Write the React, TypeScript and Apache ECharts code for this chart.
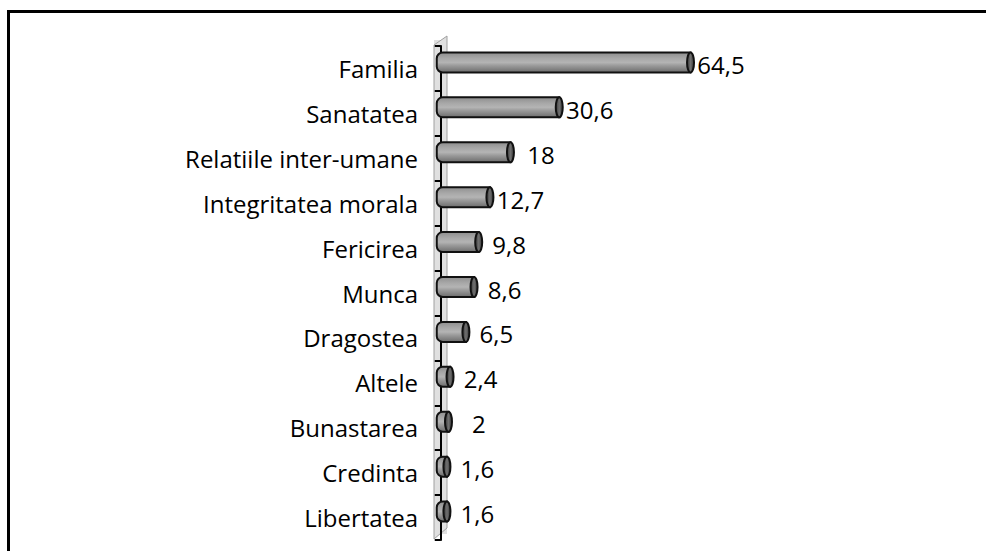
import React, { useEffect, useRef } from "react";
import * as echarts from "echarts";

const categories = [
  "Familia",
  "Sanatatea",
  "Relatiile inter-umane",
  "Integritatea morala",
  "Fericirea",
  "Munca",
  "Dragostea",
  "Altele",
  "Bunastarea",
  "Credinta",
  "Libertatea",
];
const values = [64.5, 30.6, 18, 12.7, 9.8, 8.6, 6.5, 2.4, 2, 1.6, 1.6];

const FONT = "Open Sans";

export default function App() {
  const ref = useRef<HTMLDivElement>(null);
  useEffect(() => {
    if (!ref.current) return;
    const chart = echarts.init(ref.current, undefined, { renderer: "svg" });
    const gridCommon = { left: 433, right: 158, height: 494 };
    const option: any = {
      animation: false,
      backgroundColor: "#ffffff",
      grid: [
        { ...gridCommon, top: 46 },
        { ...gridCommon, top: 40 },
      ],
      xAxis: [
        { type: "value", gridIndex: 0, min: -2, max: 100, show: false },
        { type: "value", gridIndex: 1, min: -2, max: 100, show: false },
      ],
      yAxis: [
        {
          type: "category",
          gridIndex: 0,
          data: categories,
          inverse: true,
          z: 3,
          axisLine: { show: true, lineStyle: { color: "#000", width: 2 } },
          axisTick: { show: true, length: 6, lineStyle: { color: "#000", width: 2 } },
          axisLabel: {
            color: "#000",
            fontFamily: FONT,
            fontSize: 24,
            margin: 15,
            padding: [3, 0, 0, 0],
          },
          splitLine: { show: false },
        },
        {
          type: "category",
          gridIndex: 1,
          data: categories,
          inverse: true,
          show: false,
        },
      ],
      graphic: {
        elements: [
          {
            type: "rect",
            left: 7,
            top: 10,
            z: 1,
            shape: { x: 0, y: 0, width: 1100, height: 700 },
            style: { fill: "rgba(0,0,0,0)", stroke: "#000", lineWidth: 3 },
          },
          {
            type: "rect",
            z: 1,
            x: 434,
            y: 40,
            shape: { x: 0, y: 0, width: 13, height: 494 },
            style: { fill: "#e0e0e0" },
          },
          {
            type: "polygon",
            z: 1,
            shape: {
              points: [
                [434, 45],
                [447, 36],
                [447, 528],
                [434, 539],
              ],
            },
            style: { fill: "#e0e0e0", stroke: "#a0a0a0", lineWidth: 1 },
          },
        ],
      },
      series: [
        {
          type: "custom",
          xAxisIndex: 1,
          yAxisIndex: 1,
          z: 5,
          data: values.map((v, i) => [v, i]),
          encode: { x: 0, y: 1 },
          renderItem: (params: any, api: any) => {
            const v = api.value(0);
            const idx = api.value(1);
            const p0 = api.coord([0, idx]);
            const p1 = api.coord([v, idx]);
            const bh = 20;
            const rx = 3.5;
            const cy = p1[1];
            const x0 = p0[0];
            const x1 = p1[0];
            const label = String(v).replace(".", ",");
            return {
              type: "group",
              children: [
                {
                  type: "rect",
                  shape: {
                    x: x0 - 4,
                    y: cy - bh / 2,
                    width: Math.max(x1 - x0 + 4, 4),
                    height: bh,
                    r: [6, 0, 0, 6],
                  },
                  style: {
                    fill: new echarts.graphic.LinearGradient(0, 0, 0, 1, [
                      { offset: 0, color: "#8e8e8e" },
                      { offset: 0.3, color: "#a8a8a8" },
                      { offset: 0.5, color: "#b4b4b4" },
                      { offset: 0.65, color: "#9c9c9c" },
                      { offset: 1, color: "#6c6c6c" },
                    ]),
                    stroke: "#111",
                    lineWidth: 2,
                  },
                },
                {
                  type: "ellipse",
                  shape: { cx: x1, cy: cy, rx: rx, ry: bh / 2 },
                  style: {
                    fill: new echarts.graphic.LinearGradient(0, 0, 1, 0, [
                      { offset: 0, color: "#3a3a3a" },
                      { offset: 0.5, color: "#707070" },
                      { offset: 1, color: "#3a3a3a" },
                    ]),
                    stroke: "#111",
                    lineWidth: 2,
                  },
                },
                {
                  type: "text",
                  style: {
                    text: label,
                    x: x1 + rx + 27,
                    y: cy + 2,
                    align: "center",
                    verticalAlign: "middle",
                    fill: "#000",
                    fontFamily: FONT,
                    fontSize: 24,
                  },
                },
              ],
            };
          },
        },
      ],
    };
    chart.setOption(option);
    return () => chart.dispose();
  }, []);
  return (
    <div
      ref={ref}
      style={{ position: "fixed", left: 0, top: 0, width: 986, height: 551 }}
    />
  );
}
